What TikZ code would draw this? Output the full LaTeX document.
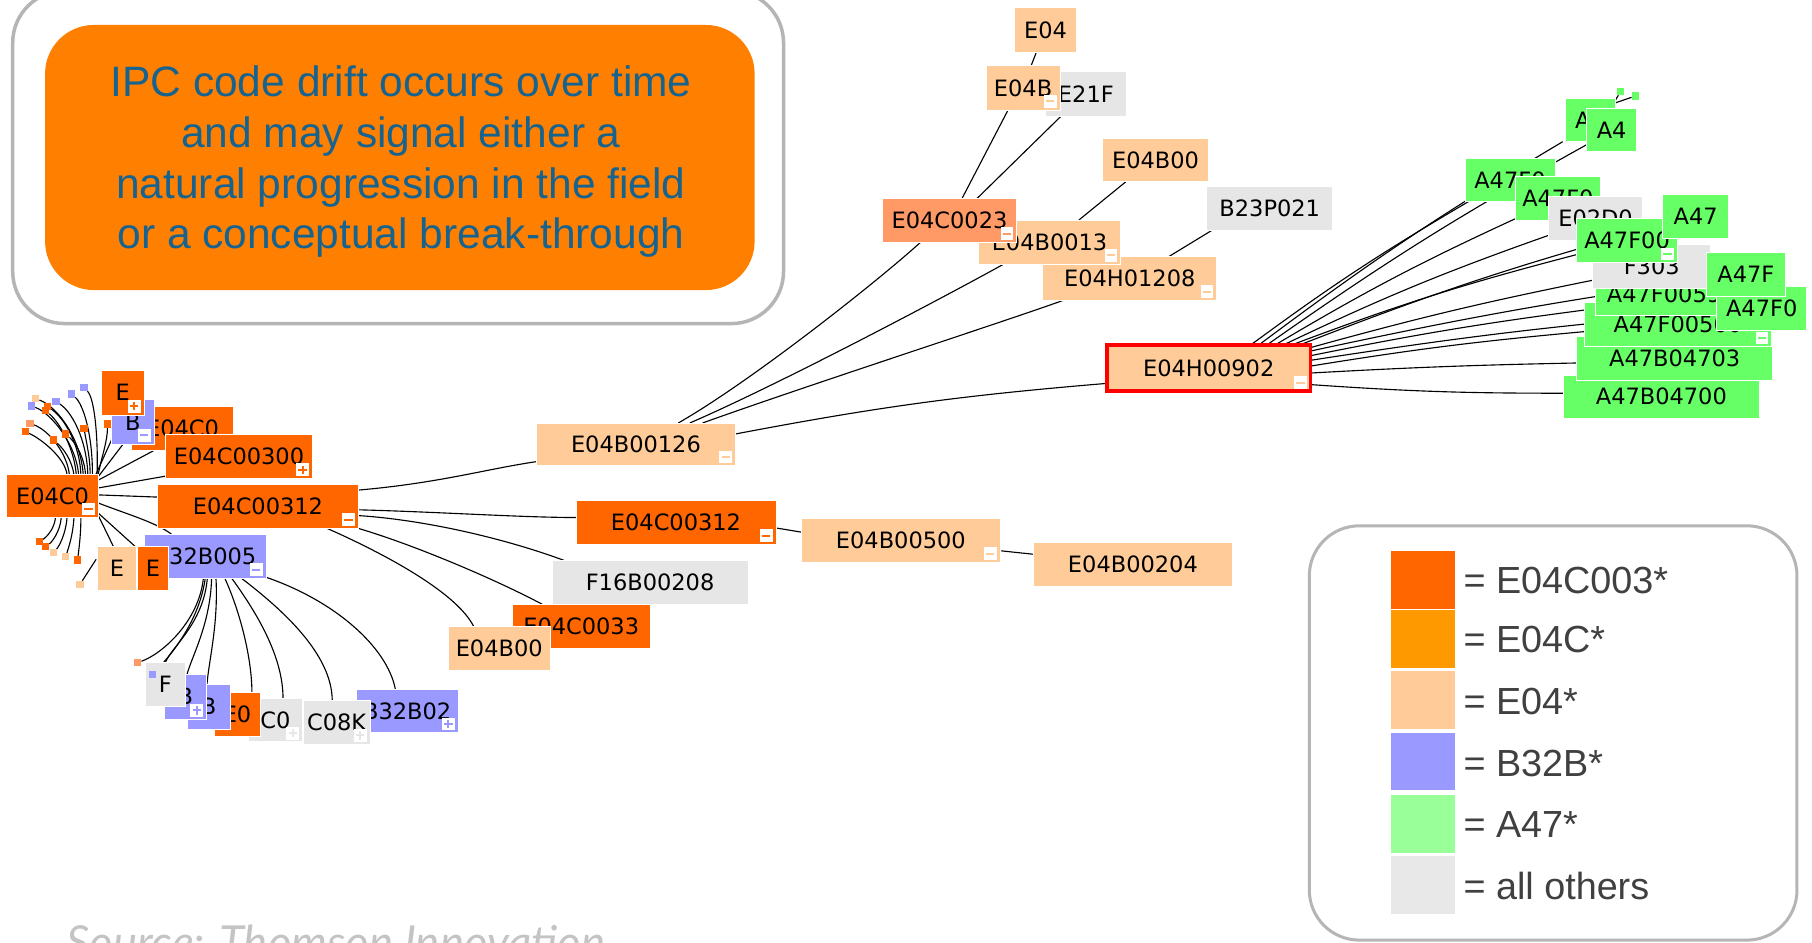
\documentclass[tikz,border=0pt]{standalone}
\usepackage{fontspec}
\setmainfont{Liberation Sans}
\newfontfamily\nodefont{DejaVu Sans}
\newfontfamily\srcfont{Lato}
\usetikzlibrary{calc,backgrounds}

% tree cell colours
\definecolor{cOr}{HTML}{FF6600}
\definecolor{cPe}{HTML}{FFCC99}
\definecolor{cBl}{HTML}{9999FF}
\definecolor{cGr}{HTML}{66FF66}
\definecolor{cGy}{HTML}{E6E6E6}
\definecolor{cSa}{HTML}{FF9966}
% legend swatches
\definecolor{lgOr}{HTML}{FF6600}
\definecolor{lgAm}{HTML}{FF9900}
\definecolor{lgPe}{HTML}{FFCC99}
\definecolor{lgBl}{HTML}{9999FF}
\definecolor{lgGr}{HTML}{99FF99}
\definecolor{lgGy}{HTML}{E8E8E8}
% callout, frames and texts
\definecolor{callout}{HTML}{FF8000}
\definecolor{calltext}{HTML}{17638F}
\definecolor{frame}{HTML}{B5B5B5}
\definecolor{legtext}{HTML}{404040}
\definecolor{srcgray}{HTML}{C4C4C4}

% a class cell given by its corners: name, x1, y1, x2, y2, fill, label
\newcommand\ipc[7]{\node[cell, fill=#6, minimum width={(#4-#2)*0.4622pt},
  minimum height={(#5-#3)*0.4622pt}] (#1) at ({(#2+#4)/2},{(#3+#5)/2}) {#7};}
% collapse / expand toggles in the lower right corner of a cell
\newcommand\tgm[2]{\node[tog] (#1-t) at ($(#1.south east)+(-8.5,-7.5)$) {};
  \draw[#2, line width=0.8pt] ($(#1-t.center)+(-3.6,0)$) -- ($(#1-t.center)+(3.6,0)$);}
\newcommand\tgp[2]{\tgm{#1}{#2}%
  \draw[#2, line width=0.8pt] ($(#1-t.center)+(0,-3.6)$) -- ($(#1-t.center)+(0,3.6)$);}
% collapsed leaf marker
\newcommand\sqn[4]{\node[sq, fill=#2] (#1) at (#3,#4) {};}

\begin{document}
\begin{tikzpicture}[x=0.4622pt, y=-0.4622pt,
  cell/.style={rectangle, draw=white, line width=0.35pt, inner sep=0pt, outer sep=0pt,
    text=black, font=\nodefont\fontsize{9}{10}\selectfont},
  tog/.style={rectangle, fill=white, inner sep=0pt, outer sep=0pt, minimum size=5.1pt},
  sq/.style={rectangle, inner sep=0pt, outer sep=0pt, minimum size=2.9pt},
  conn/.style={draw=black, line width=0.45pt},
  legtxt/.style={anchor=base west, inner sep=0pt, text=legtext,
    font=\fontsize{15.1}{18}\selectfont},
  calltxt/.style={anchor=base, inner sep=0pt, text=calltext,
    font=\fontsize{17}{20}\selectfont}]
\useasboundingbox (0,0) rectangle (1568,816);
\clip (0,0) rectangle (1568,816);

% ---------- callout ----------
\draw[frame, line width=1.4pt, rounded corners=20.8pt] (11,-8) rectangle (678,280);
\fill[callout, rounded corners=19.5pt] (39,21.6) rectangle (653,251);
\node[calltxt] (cap1) at (347,83.7)  {IPC code drift occurs over time};
\node[calltxt] (cap2) at (347,127.5) {and may signal either a};
\node[calltxt] (cap3) at (347,171.6) {natural progression in the field};
\node[calltxt] (cap4) at (347,215)   {or a conceptual break-through};

% ---------- legend ----------
\draw[frame, line width=1.2pt, rounded corners=20pt] (1133,455) rectangle (1555,813.5);
\fill[lgOr] (1204,477) rectangle (1259,527);
\fill[lgAm] (1204,528) rectangle (1259,578);
\fill[lgPe] (1204,581) rectangle (1259,631);
\fill[lgBl] (1204,634) rectangle (1259,684);
\fill[lgGr] (1204,688) rectangle (1259,738);
\fill[lgGy] (1204,741) rectangle (1259,791);
\node[legtxt] (lg1) at (1266,514)   {= E04C003*};
\node[legtxt] (lg2) at (1266,565)   {= E04C*};
\node[legtxt] (lg3) at (1266,618.7) {= E04*};
\node[legtxt] (lg4) at (1266,671.5) {= B32B*};
\node[legtxt] (lg5) at (1266,724.6) {= A47*};
\node[legtxt] (lg6) at (1266,778.2) {= all others};

% ---------- source line ----------
\node[anchor=base west, inner sep=0pt, text=srcgray,
  font=\srcfont\itshape\fontsize{18.2}{21}\selectfont] (src) at (57,829)
  {Source: Thomson Innovation};

% ---------- left cluster around E04C0 ----------
\sqn{s1}{cBl}{72.7}{335.4}
\sqn{s2}{cBl}{62}{341}
\sqn{s3}{cPe}{31}{345}
\sqn{s4}{cBl}{48.5}{347.6}
\sqn{s5}{cBl}{27.4}{351.3}
\sqn{s6}{cOr}{41.3}{351.9}
\sqn{s6b}{cOr}{39.5}{355.4}
\sqn{s7}{cSa}{26}{366.5}
\sqn{s8}{cOr}{22}{373.5}
\sqn{s9}{cOr}{57}{375.5}
\sqn{s10}{cOr}{46}{380.7}
\sqn{s11}{cOr}{72.7}{370.6}
\sqn{s12}{cOr}{93}{367}
\sqn{u1}{cOr}{34}{468.7}
\sqn{u2}{cOr}{39.5}{473}
\sqn{u3}{cPe}{46}{478.3}
\sqn{u4}{cPe}{56.8}{481.7}
\sqn{u5}{cOr}{67.2}{484.6}
\sqn{u6}{cPe}{69.2}{505.7}

\ipc{eC0b}{114}{352}{202}{389.4}{cOr}{E04C0}
\ipc{bB}{96.6}{346}{133.3}{384.2}{cBl}{B} \tgm{bB}{cBl}
\ipc{eT}{88}{320.2}{124.6}{359.1}{cOr}{E} \tgp{eT}{cOr}
\ipc{c300}{143.4}{375.5}{270.3}{414}{cOr}{E04C00300} \tgp{c300}{cOr}
\ipc{r0}{6}{410.5}{85}{448}{cOr}{E04C0} \tgm{r0}{cOr}
\ipc{cL}{136.5}{419.1}{310}{457.2}{cOr}{E04C00312} \tgm{cL}{cOr}
\ipc{b005}{124.6}{462.4}{230.2}{500.5}{cBl}{B32B005} \tgm{b005}{cBl}
\ipc{ep}{84.2}{473}{118.3}{510.6}{cPe}{E}
\ipc{eo}{119.1}{473}{145.7}{510.6}{cOr}{E}

% ---------- cluster below B32B005 ----------
\ipc{b32b02}{308.1}{596.3}{396.6}{634.1}{cBl}{B32B02} \tgp{b32b02}{cBl}
\ipc{c08k}{262.5}{605.8}{320.2}{643.9}{cGy}{C08K} \tgp{c08k}{cGy}
\ipc{c0}{214.9}{604.3}{261.9}{641.9}{cGy}{C0} \tgp{c0}{cGy}
\ipc{e0}{185.2}{599.4}{225}{637.5}{cOr}{E0}
\ipc{b2}{162.1}{592}{199}{631}{cBl}{B}
\ipc{b1}{141.9}{583.3}{178.8}{622.2}{cBl}{B} \tgp{b1}{cBl}
\ipc{fg}{126}{573.5}{160.1}{611.6}{cGy}{F}
\sqn{fb}{cBl}{131.7}{583.7}
\sqn{vq}{cSa}{119.3}{573.3}

% ---------- central branch ----------
\ipc{e126}{464}{366}{636.6}{403}{cPe}{E04B00126} \tgm{e126}{cPe}
\ipc{c312m}{498.4}{432.7}{671.5}{471}{cOr}{E04C00312} \tgm{c312m}{cOr}
\ipc{e500}{693.8}{448.5}{865.3}{486.6}{cPe}{E04B00500} \tgm{e500}{cPe}
\ipc{e204}{894.6}{469.6}{1066.1}{507.7}{cPe}{E04B00204}
\ipc{f16}{477.8}{485.2}{647.3}{522.7}{cGy}{F16B00208}
\ipc{c0033}{443.4}{523}{562.5}{561}{cOr}{E04C0033}
\ipc{e04b00b}{388}{542.3}{476}{580.4}{cPe}{E04B00}

% ---------- upper branch ----------
\ipc{e04}{877.8}{6.3}{931.7}{45.3}{cPe}{E04}
\ipc{e21f}{904.3}{62}{975}{100.4}{cGy}{E21F}
\ipc{e04b}{853.3}{56.8}{917.3}{95.2}{cPe}{E04B} \tgm{e04b}{cPe}
\ipc{e04b00t}{954.2}{119.5}{1045.7}{157.3}{cPe}{E04B00}
\ipc{b23}{1044.2}{161.5}{1153.3}{199}{cGy}{B23P021}
\ipc{h1208}{902.3}{222.1}{1052.9}{259.8}{cPe}{E04H01208} \tgm{h1208}{cPe}
\ipc{e0013}{846.6}{190.4}{969.8}{228.5}{cPe}{E04B0013} \tgm{e0013}{cPe}
\ipc{e0023}{763.5}{171.7}{879.8}{209.7}{cSa}{E04C0023} \tgm{e0023}{cSa}
\node[cell, draw=red, line width=1.57pt, fill=cPe,
  minimum width={(1134-957.9)*0.4622pt}, minimum height={(338.7-298.8)*0.4622pt}]
  (h902) at ({(957.9+1134)/2},{(298.8+338.7)/2}) {E04H00902};
\tgm{h902}{cPe}

% ---------- A47 branch ----------
\ipc{b700}{1352.8}{324.5}{1522.5}{362}{cGr}{A47B04700}
\ipc{b703}{1364.4}{291.3}{1534}{328.9}{cGr}{A47B04703}
\ipc{a50}{1370.7}{262}{1533.2}{300}{cGr}{A47F00500} \tgm{a50}{cGr}
\ipc{a59}{1381}{236}{1499}{273}{cGr}{A47F0059}
\ipc{t303}{1378.2}{211.4}{1480.4}{249.5}{cGy}{F303}
\ipc{a0r}{1485.6}{248.1}{1563.4}{285.6}{cGr}{A47F0}
\ipc{a47f}{1476.9}{218.6}{1544.7}{256.2}{cGr}{A47F}
\ipc{a0a}{1267.7}{137}{1345.6}{174.5}{cGr}{A47F0}
\ipc{a0b}{1311}{152.9}{1385.2}{190.4}{cGr}{A47F0}
\ipc{e02}{1339.9}{170.2}{1421.5}{207.7}{cGy}{E02D0}
\ipc{a00}{1364.4}{188.9}{1451.5}{227.3}{cGr}{A47F00} \tgm{a00}{cGr}
\ipc{a47}{1438.8}{168.2}{1495.9}{206.2}{cGr}{A47}
\ipc{aA}{1354.3}{85.1}{1397.6}{122.6}{cGr}{A4}
\ipc{aA4}{1373}{93.7}{1416.3}{131.2}{cGr}{A4}
\sqn{sq1}{cGr}{1402.3}{79.3}
\sqn{sq2}{cGr}{1415}{83.1}

% ---------- connectors, behind every cell ----------
\begin{pgfonlayer}{background}
\fill[white] (0,0) rectangle (1568,816);

% fan above E04C0
\draw[conn] ($(r0.north west)+(78,0)$) .. controls (85,380) and (82,345) .. (s1);
\draw[conn] ($(r0.north west)+(74,0)$) .. controls (80,375) and (72,350) .. (s2);
\draw[conn] ($(r0.north west)+(70,0)$) .. controls (75,380) and (62,356) .. (s4);
\draw[conn] ($(r0.north west)+(66,0)$) .. controls (70,380) and (50,352) .. (s3);
\draw[conn] ($(r0.north west)+(62,0)$) .. controls (66,385) and (45,358) .. (s5);
\draw[conn] ($(r0.north west)+(64,0)$) .. controls (69,385) and (56,362) .. (s6);
\draw[conn] ($(r0.north west)+(60,0)$) .. controls (64,388) and (52,366) .. (s6b);
\draw[conn] ($(r0.north west)+(54,0)$) .. controls (58,392) and (42,372) .. (s7);
\draw[conn] ($(r0.north west)+(52,0)$) .. controls (56,396) and (36,380) .. (s8);
\draw[conn] ($(r0.north west)+(68,0)$) .. controls (73,396) and (66,384) .. (s9);
\draw[conn] ($(r0.north west)+(58,0)$) .. controls (62,398) and (55,388) .. (s10);
\draw[conn] ($(r0.north west)+(72,0)$) .. controls (78,396) and (75,384) .. (s11);
\draw[conn] ($(r0.north west)+(79,0)$) .. controls (88,395) and (93,382) .. (s12);
% fan below E04C0
\draw[conn] ($(r0.south west)+(42,0)$) .. controls (47,458) and (40,465) .. (u1);
\draw[conn] ($(r0.south west)+(47,0)$) .. controls (52,460) and (45,469) .. (u2);
\draw[conn] ($(r0.south west)+(52,0)$) .. controls (57,462) and (51,473) .. (u3);
\draw[conn] ($(r0.south west)+(58,0)$) .. controls (63,464) and (59,475) .. (u4);
\draw[conn] ($(r0.south west)+(64,0)$) .. controls (70,464) and (68,477) .. (u5);
\draw[conn] ($(ep.north west)+(-1,11)$) -- (u6);
% right side of E04C0
\draw[conn] ($(r0.east)+(0,-1)$) -- ($(cL.west)+(0,-8)$);
\draw[conn] ($(r0.east)+(0,-7)$) -- ($(c300.south west)+(0,-2)$);
\draw[conn] ($(r0.north east)+(0,5)$) -- ($(eC0b.south west)+(20,0)$);
\draw[conn] ($(r0.north east)+(0,2)$) -- ($(bB.south west)+(10,0)$);
\draw[conn] ($(r0.north east)+(-2,0)$) -- (eT.south);
\draw[conn] ($(r0.east)+(0,6)$) .. controls (110,445) and (135,452) .. ($(b005.north west)+(24,0)$);
\draw[conn] ($(r0.south east)+(0,-2)$) -- ($(ep.north west)+(14,0)$);
\draw[conn] ($(r0.south east)+(0,-4)$) -- ($(eo.north west)+(-2,0)$);

% fan below B32B005
\draw[conn] ($(b005.south west)+(51.4,0)$) .. controls (172,538) and (140,566) .. (vq);
\draw[conn] ($(b005.south west)+(53,0)$) .. controls (172,540) and (145,570) .. (fb);
\draw[conn] ($(b005.south west)+(54.8,0)$) .. controls (176,540) and (148,560) .. (fg.north);
\draw[conn] ($(b005.south west)+(58.5,0)$) .. controls (182,540) and (166,568) .. ($(b1.north west)+(20,0)$);
\draw[conn] ($(b005.south west)+(62.3,0)$) .. controls (189,540) and (181,570) .. ($(b2.north west)+(17,0)$);
\draw[conn] ($(b005.south west)+(70,0)$) .. controls (208,530) and (218,570) .. ($(e0.north east)+(-7,0)$);
\draw[conn] ($(b005.south west)+(76,0)$) .. controls (222,530) and (245,568) .. ($(c0.north west)+(30,0)$);
\draw[conn] ($(b005.south west)+(84.5,0)$) .. controls (245,528) and (287,566) .. ($(c08k.north west)+(25,0)$);
\draw[conn] ($(b005.south east)+(0,-1)$) .. controls (290,520) and (335,560) .. ($(b32b02.north west)+(34,0)$);

% E04C00312 to its neighbours
\draw[conn] ($(cL.north east)+(0,5)$) .. controls (380,418) and (420,406) .. ($(e126.south west)+(0,-3.5)$);
\draw[conn] ($(cL.east)+(0,3)$) .. controls (380,443) and (450,447.7) .. ($(c312m.west)+(0,-4)$);
\draw[conn] ($(cL.east)+(0,8)$) .. controls (370,450) and (440,467) .. ($(f16.north west)+(11,0)$);
\draw[conn] (cL.south east) .. controls (360,472) and (430,502) .. ($(c0033.north west)+(26,0)$);
\draw[conn] ($(cL.south east)+(-27,0)$) .. controls (330,478) and (395,512) .. ($(e04b00b.north west)+(22,0)$);
\draw[conn] ($(c312m.east)+(0,5)$) -- ($(e500.west)+(0,-7)$);
\draw[conn] ($(e500.east)+(0,9)$) -- ($(e204.west)+(0,-9)$);

% E04B00126 upwards
\draw[conn] ($(e126.north west)+(123,0)$) .. controls (650,330) and (760,243) .. ($(e0023.south west)+(33,0)$);
\draw[conn] ($(e126.north west)+(133,0)$) .. controls (680,330) and (830,250) .. ($(e0013.south west)+(22,0)$);
\draw[conn] ($(e126.north west)+(144,0)$) .. controls (700,333) and (870,278) .. ($(h1208.south west)+(18,0)$);
\draw[conn] ($(e126.east)+(0,-9)$) to[bend left=3] ($(h902.west)+(0,13)$);
\draw[conn] ($(e0023.north west)+(69,0)$) -- ($(e04b.south west)+(19,0)$);
\draw[conn] ($(e0023.north west)+(82,0)$) -- ($(e21f.south west)+(14,0)$);
\draw[conn] ($(e04b.north)+(7,0)$) -- ($(e04.south)+(-8,0)$);
\draw[conn] ($(e0013.north west)+(87,0)$) -- ($(e04b00t.south west)+(20,0)$);
\draw[conn] ($(h1208.north west)+(109,0)$) -- ($(b23.south west)+(5,0)$);

% E04H00902 to the A47 branch
\draw[conn] ($(h902.north west)+(124,0)$) to[bend left=3] ($(a0a.south west)+(3,0)$);
\draw[conn] ($(h902.north west)+(131,0)$) to[bend left=3] ($(aA.south west)+(-2,0)$);
\draw[conn] ($(h902.north west)+(138,0)$) to[bend left=3] ($(aA4.south west)+(0,-6)$);
\draw[conn] ($(h902.north west)+(145,0)$) to[bend left=3] ($(a0b.south west)+(0,-1)$);
\draw[conn] ($(h902.north west)+(152,0)$) to[bend left=3] ($(e02.south west)+(0,-4)$);
\draw[conn] ($(h902.north west)+(159,0)$) to[bend left=3] ($(a00.south west)+(0,-7)$);
\draw[conn] ($(h902.north west)+(166,0)$) to[bend left=3] (a47);
\draw[conn] ($(h902.north east)+(0,2)$) to[bend left=2] ($(t303.south west)+(0,-7)$);
\draw[conn] ($(h902.north east)+(0,5)$) to[bend left=2] (a47f);
\draw[conn] ($(h902.north east)+(0,9)$) to[bend left=2] ($(a59.south west)+(0,-6)$);
\draw[conn] ($(h902.north east)+(0,13)$) to[bend left=2] (a0r);
\draw[conn] ($(h902.north east)+(0,18)$) to[bend left=2] ($(a50.west)+(0,6)$);
\draw[conn] ($(h902.north east)+(0,24)$) to[bend left=1] ($(b703.west)+(0,4)$);
\draw[conn] ($(h902.north east)+(0,34)$) to[bend right=2] ($(b700.west)+(0,-3)$);
\draw[conn] ($(aA.north east)+(0,2)$) -- (sq1);
\draw[conn] ($(aA.north east)+(0,4)$) -- (sq2);
\end{pgfonlayer}
\end{tikzpicture}
\end{document}
